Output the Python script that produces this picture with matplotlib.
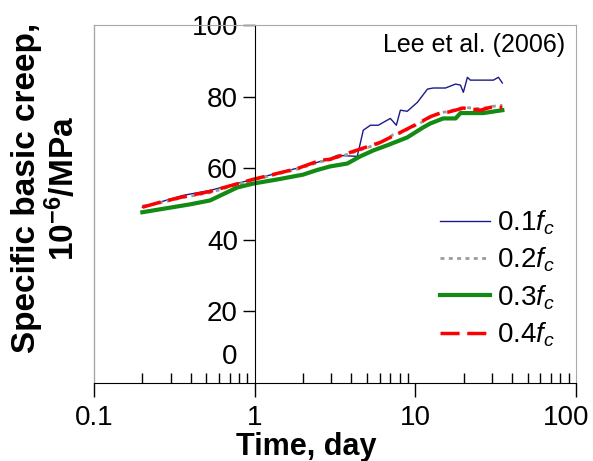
import matplotlib

matplotlib.use("Agg")
import matplotlib.pyplot as plt  # noqa: E402
from matplotlib.transforms import ScaledTranslation  # noqa: E402

# Lee et al. (2006) specific basic creep
t_01 = [0.2, 0.358, 0.528, 0.979, 1.84, 2.95, 3.27, 4.35, 4.54, 4.74, 5.25, 5.88,
        6.32, 6.99, 7.62, 8.07, 8.91, 10.3, 11.9, 12.9, 15.4, 17.8, 19.1, 19.9,
        21.1, 22.0, 30.6, 32.9, 34.8]
c_01 = [49.1, 52.4, 53.8, 56.9, 60.0, 62.7, 63.6, 63.3, 66.9, 70.6, 72.0, 72.0,
        72.8, 73.9, 72.0, 76.2, 75.9, 78.4, 82.1, 82.4, 82.4, 83.5, 83.2, 81.2,
        85.4, 84.6, 84.6, 85.4, 83.8]

t_02 = [0.2, 0.258, 0.358, 0.528, 0.979, 1.84, 2.56, 2.95, 4.11, 6.05, 7.3, 8.07,
        10.7, 12.4, 14.3, 15.8, 19.9, 25.4, 29.3, 34.8]
c_02 = [49.4, 50.3, 51.8, 53.2, 56.7, 59.7, 61.8, 62.3, 64.4, 67.0, 69.4, 69.8,
        72.6, 74.2, 75.5, 75.8, 77.0, 76.6, 77.2, 77.6]

t_03 = [0.2, 0.396, 0.528, 0.778, 0.979, 1.44, 2.0, 2.45, 2.95, 3.77, 4.54, 5.5,
        6.69, 8.91, 11.2, 12.4, 14.9, 17.8, 19.1, 22.0, 26.5, 34.8]
c_03 = [47.7, 49.9, 51.0, 54.6, 55.7, 57.0, 58.2, 59.5, 60.5, 61.3, 63.3, 65.0,
        66.4, 68.6, 71.4, 72.5, 73.9, 73.9, 75.4, 75.4, 75.4, 76.2]

t_04 = [0.2, 0.258, 0.358, 0.528, 0.979, 1.84, 2.56, 2.95, 4.11, 6.05, 8.07,
        10.7, 12.4, 14.3, 15.8, 19.9, 25.4, 29.3, 34.8]
c_04 = [49.1, 50.5, 52.0, 53.5, 56.9, 59.9, 62.2, 62.5, 64.7, 67.2, 70.0,
        72.8, 74.4, 75.4, 75.6, 76.8, 76.2, 77.0, 77.0]

labels = ["0.1$f_c$", "0.2$f_c$", "0.3$f_c$", "0.4$f_c$"]
x_ticks = [0.1, 1, 10, 100]
x_ticklabels = ["0.1", "1", "10", "100"]
y_ticks = [20, 40, 60, 80, 100]

plt.rcParams["font.family"] = ["Liberation Sans", "DejaVu Sans"]
plt.rcParams["mathtext.fontset"] = "custom"
plt.rcParams["mathtext.rm"] = "Liberation Sans"
plt.rcParams["mathtext.it"] = "Liberation Sans:italic"
plt.rcParams["mathtext.bf"] = "Liberation Sans:bold"

fig = plt.figure(figsize=(5.93, 4.61), dpi=100)
ax = fig.add_axes([94 / 593, 1 - 383 / 461, 482 / 593, 358 / 461])

ax.plot(t_01, c_01, color="#1a1a8c", lw=1.0, label=labels[0])
ax.plot(t_02, c_02, color="#9a9a9a", lw=2.0, linestyle=(0, (1.4, 1.6)), label=labels[1])
ax.plot(t_03, c_03, color="#138a13", lw=3.0, label=labels[2])
ax.plot(t_04, c_04, color="#ff0000", lw=2.5, linestyle=(0, (5.5, 2.2)), label=labels[3])

ax.set_xscale("log")
ax.set_xlim(0.1, 100)
ax.set_ylim(0, 100)

# frame: grey box, black x axis, black y axis sitting at t = 1
for side in ["top", "right"]:
    ax.spines[side].set_color("#a8a8a8")
ax.spines["bottom"].set_color("black")
ax.spines["left"].set_position(("data", 1))
ax.spines["left"].set_color("black")
ax.plot([0, 0], [0, 1], transform=ax.transAxes, color="#a8a8a8", lw=1.0, clip_on=False)

ax.set_xticks(x_ticks)
ax.set_xticklabels(x_ticklabels)
ax.tick_params(axis="x", which="major", direction="out", length=10, width=1,
               labelsize=20, pad=6)
ax.tick_params(axis="x", which="minor", direction="in", length=7, width=1)
# last label sits a little left of its tick, as in the original
last = ax.get_xticklabels()[-1]
last.set_transform(last.get_transform() + ScaledTranslation(-10 / 100, 0, fig.dpi_scale_trans))

ax.set_yticks(y_ticks)
ax.tick_params(axis="y", which="major", direction="out", length=9, width=1,
               labelsize=20, pad=3)
ax.annotate("0", xy=(1, 0), xytext=(-17, 26), textcoords="offset pixels",
            ha="right", va="center", fontsize=20)

ax.text(0.977, 0.944, "Lee et al. (2006)", transform=ax.transAxes,
        ha="right", va="center", fontsize=18)

ax.legend(loc="upper left", bbox_to_anchor=(0.718, 0.488), frameon=False,
          fontsize=20, handlelength=1.8, handletextpad=0.25, labelspacing=0.32,
          borderpad=0, borderaxespad=0)

fig.text(46 / 593, 1 - 188 / 461, "Specific basic creep,\n10$^{\\mathbf{-6}}$/MPa",
         rotation=90, ha="center", va="center", multialignment="center",
         fontsize=24, fontweight="bold", linespacing=1.1)
fig.text(306 / 593, 1 - 432 / 461, "Time, day", ha="center", va="top",
         fontsize=22, fontweight="bold")

fig.savefig("out.png", dpi=100)
